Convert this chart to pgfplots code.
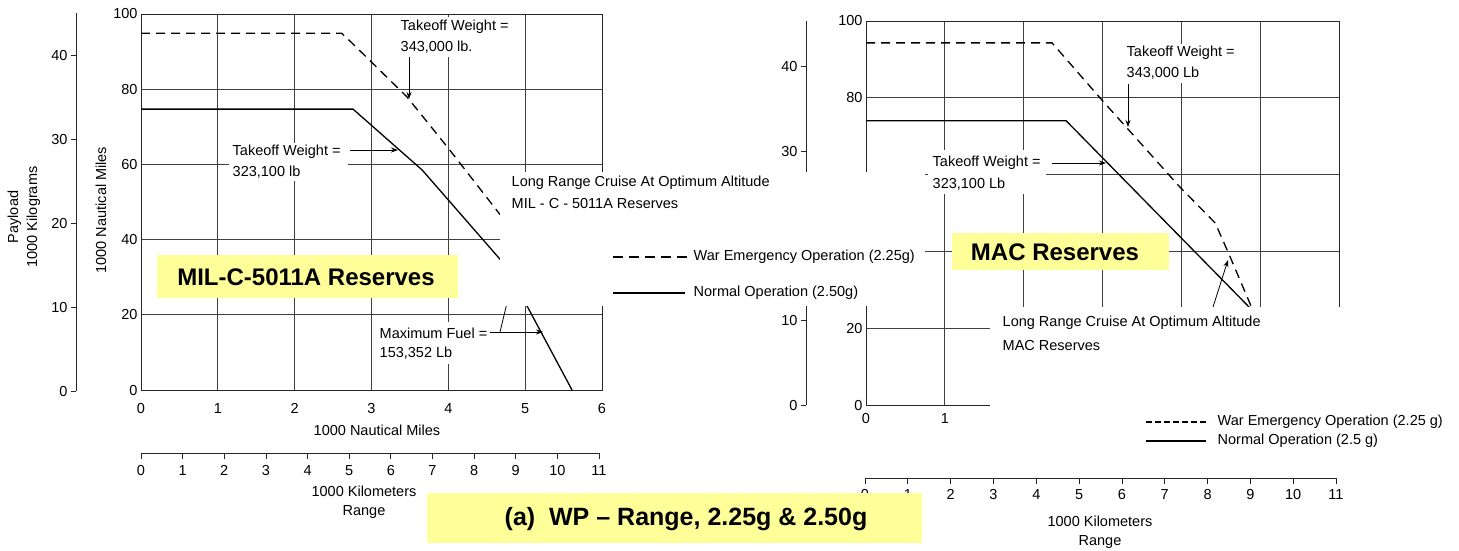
\documentclass[border=0pt]{standalone}
\usepackage{fontspec}
\setmainfont{Liberation Sans}
\usepackage{pgfplots}
\pgfplotsset{compat=1.18}
\usetikzlibrary{arrows.meta}

\definecolor{hl}{HTML}{FFFF99}
\newcommand{\sm}{\fontsize{14.5}{16}\selectfont}
\newcommand{\bg}{\fontsize{24}{28}\selectfont\bfseries}

\pgfplotsset{
  chart/.style={scale only axis, xmin=0, xmax=6, ymin=0, ymax=100,
    xtick={0,...,6}, ytick={0,20,...,100}, grid=major, major tick length=0pt,
    axis line style={line width=1pt, black!85},
    grid style={line width=0.9pt, black!75},
    tick label style={font=\sm}, /pgf/number format/assume math mode=true},
  kgaxis/.style={scale only axis, width=1pt, xmin=0, xmax=1, ymin=0,
    axis x line=none, axis y line=left, axis line style={-, line width=1pt, black!85},
    ytick={0,10,...,40}, tick align=outside, major tick length=5pt,
    tick style={line width=0.8pt, black!85},
    tick label style={font=\sm}, /pgf/number format/assume math mode=true},
  kmaxis/.style={scale only axis, height=1pt, ymin=0, ymax=1, xmin=0, xmax=11,
    axis y line=none, axis x line=bottom, axis line style={-, line width=1pt, black!85},
    xtick={0,...,11}, tick align=outside, major tick length=6pt,
    tick style={line width=0.8pt, black!85},
    tick label style={font=\sm}, /pgf/number format/assume math mode=true},
  war/.style={black, line width=1.3pt, dash pattern=on 9pt off 6pt},
  normal/.style={black, line width=1.3pt},
}

\begin{document}
\begin{tikzpicture}[x=1pt, y=1pt,
  ann/.style={font=\sm, anchor=west, inner sep=1.5pt},
  arr/.style={-{Stealth[length=7pt,width=5pt]}, line width=0.8pt}]
\useasboundingbox (0,0) rectangle (1459,-550);

% left chart: MIL-C-5011A reserves
\begin{axis}[chart, at={(141pt,-390pt)}, anchor=south west,
  width=461pt, height=376pt, xticklabel style={yshift=-10pt}]
\addplot[war] coordinates {(0,94.9) (2.61,94.9) (2.7,93.2) (3.46,78) (4,64.3) (4.66,47) (5.0,38.5)};
\addplot[normal] coordinates {(0,74.7) (2.76,74.7) (3.66,58.5) (4.74,33.2) (5.61,0)};
\end{axis}

% right chart: MAC reserves (labels under the pasted patches left blank)
\begin{axis}[chart, at={(866pt,-405pt)}, anchor=south west,
  width=473pt, height=384pt, xticklabel style={yshift=-5pt},
  xticklabels={0,1,,,,,}, yticklabels={0,20,,,80,100}]
\addplot[war] coordinates {(0,94.3) (2.36,94.3) (2.98,79.7) (3.98,56.8) (4.43,47.4) (4.61,39) (4.89,25.5) (5.1,15)};
\addplot[normal] coordinates {(0,74) (2.54,74) (4.86,25.5) (5.3,16)};
\end{axis}

% payload in 1000 kg
\begin{axis}[kgaxis, at={(76pt,-391pt)}, anchor=south west, height=378pt, ymax=45.05]
\end{axis}
\begin{axis}[kgaxis, at={(806pt,-405pt)}, anchor=south west, height=384pt, ymax=45.4,
  yticklabels={0,10,,30,40}]
\end{axis}

% range in 1000 km
\begin{axis}[kmaxis, at={(141pt,-453pt)}, anchor=south west, width=458pt,
  xticklabel style={yshift=-3pt}]
\end{axis}
\begin{axis}[kmaxis, at={(865pt,-478pt)}, anchor=south west, width=471pt,
  xticklabel style={yshift=-2pt}]
\end{axis}

% axis titles
\node[rotate=90, align=center, font=\sm] at (24,-217) {Payload\\[3pt]1000 Kilograms};
\node[rotate=90, font=\sm] at (101,-210) {1000 Nautical Miles};
\node[font=\sm] at (377,-430) {1000 Nautical Miles};
\node[font=\sm, align=center] at (364,-502) {1000 Kilometers\\[3pt]Range};
\node[font=\sm, align=center] at (1100,-532) {1000 Kilometers\\[3pt]Range};

% left annotations
\fill[white] (397,-17) rectangle (512,-57);
\node[ann] at (399,-27) {Takeoff Weight =};
\node[ann] at (399,-47) {343,000 lb.};
\draw[arr] (409,-57) -- (409,-99);
\fill[white] (229,-143) rectangle (348,-181);
\node[ann] at (231,-152) {Takeoff Weight =};
\node[ann] at (231,-172) {323,100 lb};
\draw[arr] (350,-150) -- (398,-150);
\fill[white] (375,-322) rectangle (492,-364);
\node[ann] at (378,-333) {Maximum Fuel =};
\node[ann] at (378,-353) {153,352 Lb};
\draw[arr] (490,-332) -- (543,-332);
\draw[line width=0.8pt] (500,-332) -- (507,-303);

% right annotations
\fill[white] (1122,-44) rectangle (1242,-83);
\node[ann] at (1125,-53) {Takeoff Weight =};
\node[ann] at (1125,-73) {343,000 Lb};
\draw[arr] (1128,-84) -- (1128,-127);
\fill[white] (928,-150) rectangle (1046,-194);
\node[ann] at (931,-163) {Takeoff Weight =};
\node[ann] at (931,-184) {323,100 Lb};
\draw[arr] (1052,-163) -- (1106,-163);

% pasted legend of the left chart
\fill[white] (500,-172) rectangle (925,-306);
\node[ann] at (510,-183) {Long Range Cruise At Optimum Altitude};
\node[ann] at (510,-204) {MIL - C - 5011A Reserves};
\draw[black, line width=1.2pt, dash pattern=on 10pt off 6pt] (613,-257) -- (687,-257);
\node[ann] at (692,-257) {War Emergency Operation (2.25g)};
\draw[black, line width=1.2pt] (613,-293) -- (685,-293);
\node[ann] at (692,-293) {Normal Operation (2.50g)};

% lower part of the right chart, covered
\fill[white] (990,-307) rectangle (1459,-462);
\draw[arr] (1213,-307) -- (1228,-260);
\node[ann] at (1001,-323) {Long Range Cruise At Optimum Altitude};
\node[ann] at (1001,-345) {MAC Reserves};
\draw[black, line width=1.2pt, dash pattern=on 6pt off 3pt] (1146,-422) -- (1206,-422);
\node[ann] at (1216,-422) {War Emergency Operation (2.25 g)};
\draw[black, line width=1.2pt] (1146,-441) -- (1206,-441);
\node[ann] at (1216,-441) {Normal Operation (2.5 g)};

% highlight boxes
\fill[hl] (157,-255) rectangle (458,-298);
\node[font=\bg] at (306,-277) {MIL-C-5011A Reserves};
\fill[hl] (952,-233) rectangle (1169,-270);
\node[font=\bg] at (1055,-252) {MAC Reserves};
\fill[hl] (427,-493) rectangle (922,-543);
\node[font=\fontsize{25}{28}\selectfont\bfseries] at (686,-519) {(a)\ \ WP -- Range, 2.25g \& 2.50g};
\end{tikzpicture}
\end{document}
